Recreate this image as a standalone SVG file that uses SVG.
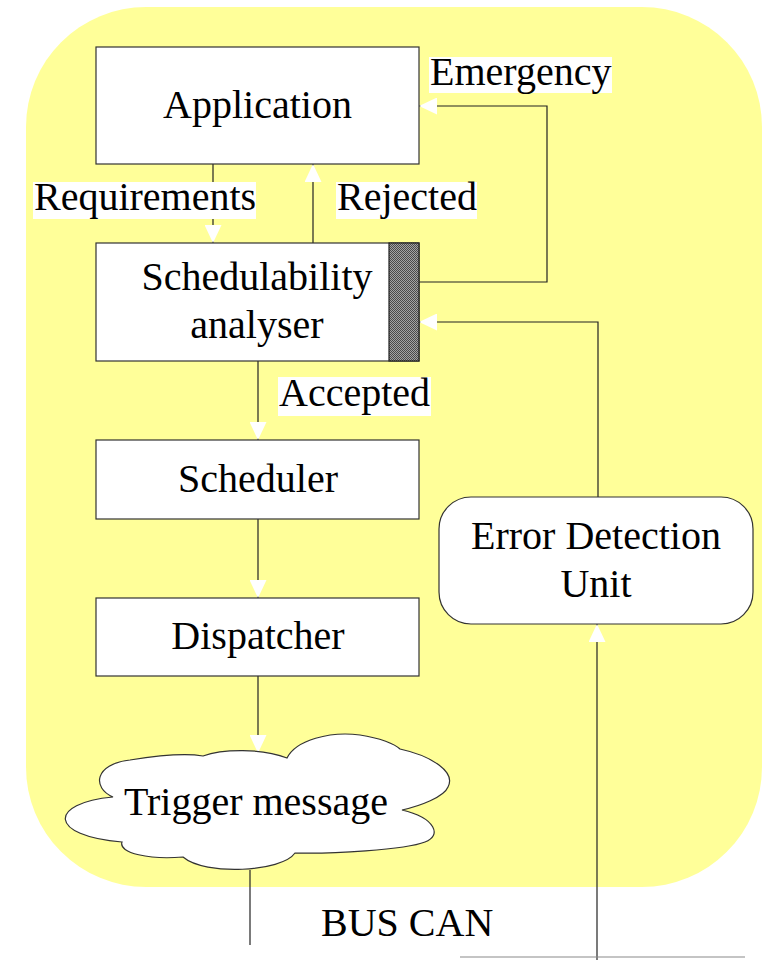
<svg xmlns="http://www.w3.org/2000/svg" width="762" height="960" viewBox="0 0 762 960">
  <style>
    .box { fill: #ffffff; stroke: #333333; stroke-width: 1.2; }
    .lbl { font-size: 40px; fill: #000000; }
    .mid { text-anchor: middle; }
    .bg { fill: #ffffff; }
    .wire { fill: none; stroke: #222222; stroke-width: 1.2; }
  </style>
  <defs>
    <marker id="arrow" viewBox="0 0 18 17" refX="18" refY="8.5" markerWidth="18" markerHeight="17" markerUnits="userSpaceOnUse" orient="auto">
      <path d="M0,0 L18,8.5 L0,17 Z" fill="#ffffff"/>
    </marker>
    <pattern id="stipple" width="2" height="2" patternUnits="userSpaceOnUse">
      <rect width="2" height="2" fill="#a4a4a4"/>
      <rect x="0" y="0" width="1" height="1" fill="#4a4a4a"/>
      <rect x="1" y="1" width="1" height="1" fill="#4a4a4a"/>
    </pattern>
  </defs>

  <rect width="762" height="960" fill="#ffffff"/>

  <!-- node container -->
  <rect id="node-area" x="26" y="7" width="736" height="880" rx="120" ry="120" fill="#ffff99"/>

  <!-- connectors -->
  <g id="connectors">
    <line class="wire" x1="213" y1="164" x2="213" y2="243" marker-end="url(#arrow)"/>
    <line class="wire" x1="313" y1="243" x2="313" y2="164" marker-end="url(#arrow)"/>
    <polyline class="wire" points="419,282 547,282 547,106 419,106" marker-end="url(#arrow)"/>
    <polyline class="wire" points="598,498 598,322 419,322" marker-end="url(#arrow)"/>
    <line class="wire" x1="258" y1="361" x2="258" y2="440" marker-end="url(#arrow)"/>
    <line class="wire" x1="258" y1="519" x2="258" y2="598" marker-end="url(#arrow)"/>
    <line class="wire" x1="258" y1="676" x2="258" y2="753" marker-end="url(#arrow)"/>
    <line class="wire" x1="250" y1="870" x2="250" y2="945"/>
    <line class="wire" x1="597" y1="960" x2="597" y2="624" marker-end="url(#arrow)"/>
    <line x1="460" y1="957" x2="745" y2="957" stroke="#8a8a8a" stroke-width="1.2"/>
  </g>

  <g font-family="'Liberation Serif', 'DejaVu Serif', serif">
    <!-- connector labels -->
    <g id="labels">
      <rect class="bg" x="429" y="57" width="183" height="36"/>
      <text class="lbl" x="430" y="85">Emergency</text>
      <rect class="bg" x="33" y="182" width="223" height="37"/>
      <text class="lbl" x="34" y="210">Requirements</text>
      <rect class="bg" x="336" y="182" width="141" height="37"/>
      <text class="lbl" x="337" y="210">Rejected</text>
      <rect class="bg" x="278" y="377" width="153" height="39"/>
      <text class="lbl" x="279" y="406">Accepted</text>
      <text class="lbl" x="321" y="936">BUS CAN</text>
    </g>

    <g id="application">
      <rect class="box" x="96" y="47" width="323" height="117"/>
      <text class="lbl mid" x="257.5" y="118">Application</text>
    </g>

    <g id="schedulability-analyser">
      <rect class="box" x="96" y="243" width="323" height="118"/>
      <rect x="389" y="243" width="30" height="118" fill="url(#stipple)" stroke="#222222" stroke-width="1.2"/>
      <text class="lbl mid" x="257" y="290">Schedulability</text>
      <text class="lbl mid" x="257" y="338">analyser</text>
    </g>

    <g id="scheduler">
      <rect class="box" x="96" y="440" width="323" height="79"/>
      <text class="lbl mid" x="258" y="492">Scheduler</text>
    </g>

    <g id="dispatcher">
      <rect class="box" x="96" y="598" width="323" height="78"/>
      <text class="lbl mid" x="258" y="649">Dispatcher</text>
    </g>

    <g id="trigger-message">
      <path class="box" d="M113,797
        C92,788 94,764 130,760
        C155,756 185,753 203,756
        C222,749 262,748 287,758
        C296,740 330,731 360,735
        C380,738 395,744 400,749
        C432,756 456,772 448,787
        C444,797 420,806 402,810
        C436,818 442,836 425,842
        C405,850 330,854 295,853
        C282,872 205,876 183,857
        C150,860 118,853 122,842
        C48,836 48,803 113,797 Z"/>
      <text class="lbl mid" x="256" y="815">Trigger message</text>
    </g>

    <g id="error-detection-unit">
      <rect class="box" x="439" y="497" width="314" height="127" rx="32" ry="32"/>
      <text class="lbl mid" x="596" y="549">Error Detection</text>
      <text class="lbl mid" x="596" y="597">Unit</text>
    </g>
  </g>
</svg>
